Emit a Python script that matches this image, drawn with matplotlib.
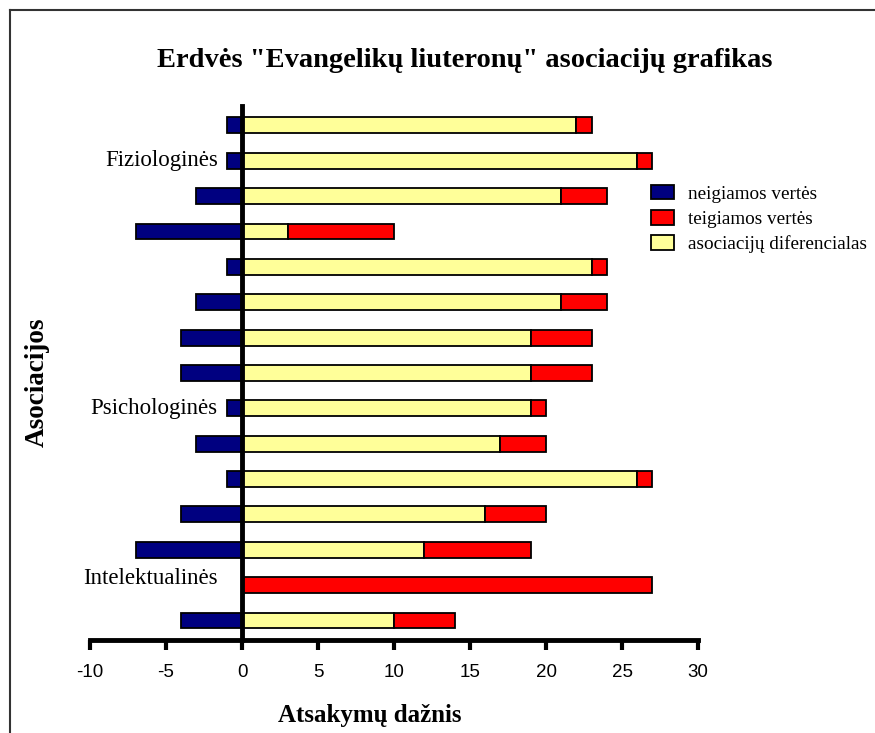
import matplotlib
matplotlib.use('Agg')
import matplotlib.pyplot as plt
from matplotlib.lines import Line2D
from matplotlib.patches import Patch

# values per row, top to bottom
neigiamos = [-1, -1, -3, -7, -1, -3, -4, -4, -1, -3, -1, -4, -7, 0, -4]
diferencialas = [22, 26, 21, 3, 23, 21, 19, 19, 19, 17, 26, 16, 12, 0, 10]
teigiamos = [23, 27, 24, 10, 24, 24, 23, 23, 20, 20, 27, 20, 19, 27, 14]

grupes = ['Fiziologinės', 'Psichologinės', 'Intelektualinės']
grupiu_eil = [1, 8, 12.8]

x_ticks = [-10, -5, 0, 5, 10, 15, 20, 25, 30]

navy = '#000080'
red = '#FF0000'
yellow = '#FFFF99'

fig = plt.figure(figsize=(8.75, 7.33), dpi=100)
ax = fig.add_axes([0.1029, 0.1269, 0.6949, 0.7285])

y = list(range(len(neigiamos)))
h = 0.45
red_w = [t - d for t, d in zip(teigiamos, diferencialas)]

ax.barh(y, neigiamos, height=h, color=navy, edgecolor='black', linewidth=1.3)
ax.barh(y, diferencialas, height=h, color=yellow, edgecolor='black', linewidth=1.3)
ax.barh(y, red_w, left=diferencialas, height=h, color=red, edgecolor='black', linewidth=1.3)

ax.set_xlim(-10, 30)
ax.set_ylim(len(y) - 1 + 0.55, -0.55)
ax.set_xticks(x_ticks)
ax.set_xticklabels([str(v) for v in x_ticks], family='Liberation Sans', fontsize=13.5)
ax.set_yticks([])

ax.spines['top'].set_visible(False)
ax.spines['right'].set_visible(False)
ax.spines['left'].set_position(('data', 0))
ax.spines['left'].set_linewidth(3.5)
ax.spines['bottom'].set_linewidth(3.5)
ax.spines['left'].set_zorder(5)
ax.tick_params(axis='x', direction='out', length=7, width=3, pad=10)

for name, r in zip(grupes, grupiu_eil):
    ax.text(-1.6, r, name, ha='right', va='center', family='Liberation Serif', fontsize=16.5)

fig.text(0.531, 0.918, 'Erdvės "Evangelikų liuteronų" asociacijų grafikas',
         ha='center', va='center', family='Liberation Serif', fontweight='bold', fontsize=20.5)
fig.text(0.423, 0.024, 'Atsakymų dažnis', ha='center', va='center',
         family='Liberation Serif', fontweight='bold', fontsize=18)
fig.text(0.043, 0.478, 'Asociacijos', ha='center', va='center', rotation=90,
         family='Liberation Serif', fontweight='bold', fontsize=19.5)

handles = [Patch(facecolor=navy, edgecolor='black', linewidth=1.3),
           Patch(facecolor=red, edgecolor='black', linewidth=1.3),
           Patch(facecolor=yellow, edgecolor='black', linewidth=1.3)]
fig.legend(handles, ['neigiamos vertės', 'teigiamos vertės', 'asociacijų diferencialas'],
           loc='upper left', bbox_to_anchor=(0.744, 0.748), frameon=False,
           prop={'family': 'Liberation Serif', 'size': 13.8},
           handlelength=1.2, handleheight=0.8, labelspacing=0.38, handletextpad=0.75,
           borderaxespad=0, borderpad=0)

# outer frame
fig.add_artist(Line2D([10 / 875, 1.0], [1 - 10 / 733, 1 - 10 / 733], color='#333333', lw=1.5))
fig.add_artist(Line2D([10 / 875, 10 / 875], [0, 1 - 10 / 733], color='#333333', lw=1.5))

fig.savefig('out.png', dpi=100)
